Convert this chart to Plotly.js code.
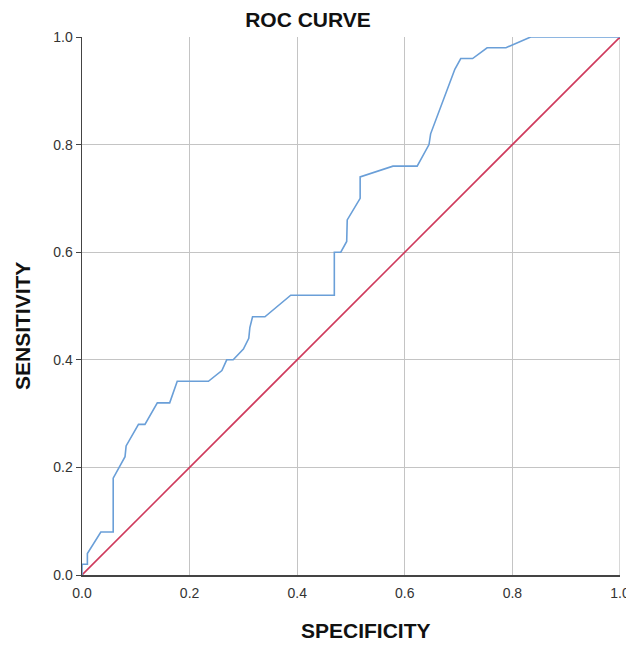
<!DOCTYPE html>
<html>
<head>
<meta charset="utf-8">
<script src="https://cdn.plot.ly/plotly-3.0.1.min.js"></script>
<style>html,body{margin:0;padding:0;background:#fff;}#chart{width:626px;height:646px;}</style>
</head>
<body>
<div id="chart"></div>
<script>
// ROC curve points (x labelled SPECIFICITY, y = SENSITIVITY)
const rocX = [0, 0, 0.010, 0.010, 0.035, 0.058, 0.058, 0.080, 0.082, 0.105, 0.117, 0.140, 0.163, 0.177, 0.235, 0.260, 0.269, 0.281, 0.300, 0.310, 0.312, 0.317, 0.340, 0.388, 0.469, 0.469, 0.481, 0.492, 0.493, 0.517, 0.517, 0.578, 0.623, 0.645, 0.648, 0.693, 0.704, 0.726, 0.753, 0.788, 0.834, 1.0];
const rocY = [0, 0.02, 0.02, 0.04, 0.08, 0.08, 0.18, 0.22, 0.24, 0.28, 0.28, 0.32, 0.32, 0.36, 0.36, 0.38, 0.40, 0.40, 0.42, 0.44, 0.46, 0.48, 0.48, 0.52, 0.52, 0.60, 0.60, 0.62, 0.66, 0.70, 0.74, 0.76, 0.76, 0.80, 0.82, 0.94, 0.96, 0.96, 0.98, 0.98, 1.0, 1.0];
// Reference (chance) line
const refX = [0, 1];
const refY = [0, 1];
const tickVals = [0, 0.2, 0.4, 0.6, 0.8, 1.0];
const tickText = ["0.0", "0.2", "0.4", "0.6", "0.8", "1.0"];
const titleText = 'ROC CURVE';
const xTitle = 'SPECIFICITY';
const yTitle = 'SENSITIVITY';

const traces = [
  {x: refX, y: refY, type: 'scatter', mode: 'lines', line: {color: '#cf3a5c', width: 1.6}, hoverinfo: 'skip', showlegend: false},
  {x: rocX, y: rocY, type: 'scatter', mode: 'lines', line: {color: '#6a9fd8', width: 1.6}, showlegend: false}
];

const font = 'Liberation Sans, Arial, sans-serif';
const titleFont = {family: font, size: 21, color: '#111', weight: 'bold'};
const layout = {
  width: 626, height: 646,
  margin: {l: 82, r: 6, t: 37, b: 71},
  paper_bgcolor: '#fff', plot_bgcolor: '#fff',
  font: {family: font, color: '#333', size: 13},
  title: {text: titleText, font: titleFont, x: 308 / 626, xanchor: 'center', y: 1 - 20 / 646, yanchor: 'middle', xref: 'container', yref: 'container'},
  xaxis: {
    range: [0, 1], tickvals: tickVals, ticktext: tickText, ticks: '', ticklabelstandoff: 5,
    ticklabeloverflow: 'allow',
    showgrid: true, gridcolor: '#c4c4c4', gridwidth: 1.3, zeroline: false,
    showline: true, linecolor: '#444', linewidth: 1.5, fixedrange: true,
    tickfont: {size: 14, color: '#333'}
  },
  yaxis: {
    range: [0, 1], tickvals: tickVals, ticktext: tickText, ticks: 'outside', ticklen: 5, tickcolor: '#444',
    showgrid: true, gridcolor: '#c4c4c4', gridwidth: 1.3, zeroline: false,
    showline: true, linecolor: '#444', linewidth: 1.5, fixedrange: true,
    tickfont: {size: 14, color: '#333'}
  },
  shapes: [
    {type: 'line', xref: 'x', yref: 'paper', x0: 1, x1: 1, y0: 0, y1: 1, line: {color: '#c4c4c4', width: 1.3}, layer: 'below'}
  ],
  annotations: [
    {text: xTitle, xref: 'paper', yref: 'paper', x: (366 - 82) / 538, y: -(631 - 575) / 538, xanchor: 'center', yanchor: 'middle', showarrow: false, font: titleFont},
    {text: yTitle, xref: 'paper', yref: 'paper', x: -(82 - 22) / 538, y: (575 - 326) / 538, xanchor: 'center', yanchor: 'middle', textangle: -90, showarrow: false, font: titleFont}
  ]
};
Plotly.newPlot('chart', traces, layout, {displayModeBar: false, staticPlot: true});
</script>
</body>
</html>
